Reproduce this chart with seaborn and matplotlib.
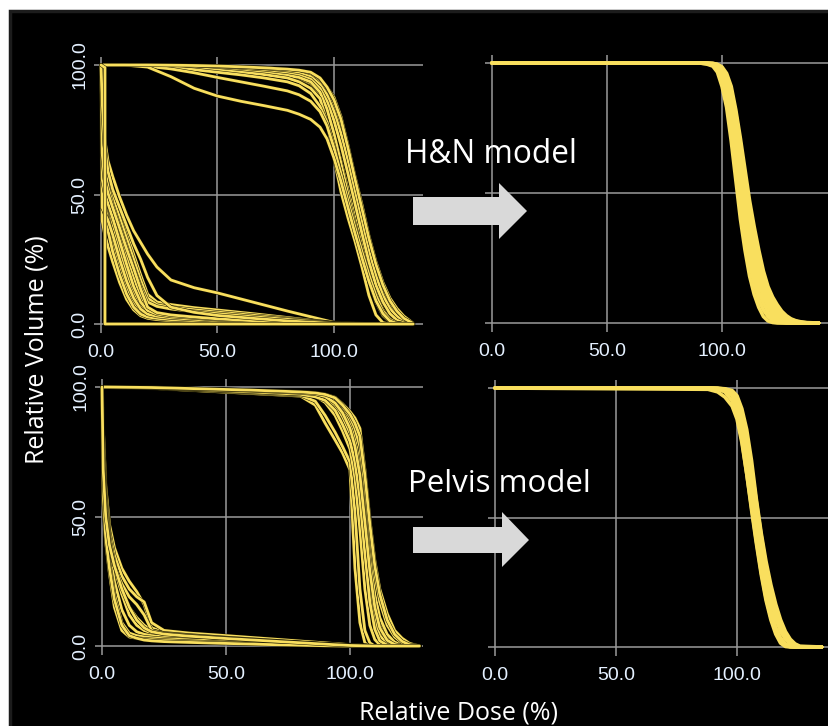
import numpy as np
import pandas as pd
import matplotlib
matplotlib.use("Agg")
import matplotlib.pyplot as plt
import seaborn as sns
from matplotlib import patheffects as pe
from matplotlib.patches import Rectangle, Polygon

# ---------------- data ----------------
# H&N, before model: target-like DVHs on a shared dose grid
HN_PRE_PTV_DOSE = [0, 10, 20, 30, 40, 50, 60, 70, 80, 85, 90, 94, 97, 100, 103, 106, 109, 112, 115, 118, 121, 124, 127, 130, 134]
HN_PRE_PTV_VOL = [
    [100, 100, 100, 100, 99.8, 99.6, 99.3, 99, 98.3, 97.8, 97, 94.5, 91.5, 87.5, 80, 69, 57, 46, 34, 24, 16, 10, 6, 3, 0.3],
    [100, 100, 100, 99.9, 99.7, 99.4, 99.1, 98.7, 98, 97.5, 96.3, 93.5, 90, 85, 77, 66, 54, 42.5, 31, 21, 13.5, 8, 4.5, 2, 0],
    [100, 100, 99.9, 99.7, 99.4, 99, 98.6, 98.1, 97.3, 96.8, 95.5, 92.5, 88.5, 82, 73.5, 63, 51, 39.5, 28, 18.5, 11, 6, 3, 1, 0],
    [100, 100, 99.8, 99.5, 99.1, 98.6, 98.1, 97.5, 96.7, 96, 94.5, 91, 86, 78.5, 69, 58, 46.5, 35, 24, 15, 8.5, 4, 1.5, 0.4, 0],
    [100, 100, 99.8, 99.4, 98.9, 98.3, 97.7, 97, 96, 95.2, 93.5, 89.5, 83, 73.5, 62, 50, 38.5, 28, 18, 10, 4.5, 1.5, 0.3, 0, 0],
    [100, 100, 99.7, 99.3, 98.7, 98, 97.2, 96.3, 95, 93.5, 91, 87, 78, 64, 51, 41, 32, 22, 11, 3.5, 0.5, 0, 0, 0, 0],
    [100, 100, 99.6, 99, 98.2, 97.2, 96.2, 95, 93.5, 92, 89, 84, 78, 69, 58, 47, 36.5, 26.5, 17, 9, 3.5, 1, 0.2, 0, 0],
    [100, 100, 99.5, 98.5, 97, 95.2, 93.5, 91.8, 90, 88.5, 86, 82, 76.5, 68, 58, 47.5, 37.5, 28, 19, 11, 5, 1.8, 0.4, 0, 0],
    [100, 100, 99.2, 95.5, 91, 88, 86, 84.3, 82.5, 81, 79, 76, 71.5, 64, 55, 45, 35, 25.5, 16.5, 9, 4, 1.2, 0.2, 0, 0],
    [100, 100, 100, 99.9, 99.8, 99.6, 99.3, 98.9, 98.4, 98, 97.2, 95, 91.5, 86.5, 79, 68, 56, 44.5, 33, 23, 15, 9, 5, 2.2, 0.2],
    [100, 100, 99.9, 99.6, 99.2, 98.7, 98.2, 97.6, 96.9, 96.4, 95.2, 92, 87, 80, 71, 60.5, 49, 37.5, 26.5, 17, 10, 5, 2, 0.6, 0],
    [100, 100, 99.7, 99.3, 98.7, 98, 97.3, 96.5, 95.5, 94.8, 92.8, 88.5, 81.5, 71.5, 60, 48.5, 37, 26.5, 16.5, 8.5, 3.2, 0.8, 0.1, 0, 0],
    [100, 100, 99.9, 99.8, 99.5, 99.2, 98.8, 98.3, 97.6, 97.1, 96, 93, 89, 83.5, 75, 64.5, 53, 41, 29.5, 19.5, 12, 7, 3.5, 1.4, 0],
    [100, 100, 99.8, 99.4, 98.8, 98.2, 97.5, 96.8, 95.8, 95, 93, 89, 82.5, 73, 63, 52, 41, 30.5, 20.5, 12, 5.5, 2, 0.5, 0, 0],
]
# H&N, before model: organ-at-risk DVHs
HN_PRE_OAR_DOSE = [0, 0.5, 1.5, 3, 5, 8, 11, 14, 17, 20, 24, 30, 40, 50, 65, 80, 100, 115, 134]
HN_PRE_OAR_VOL = [
    [100, 88, 72, 63, 57, 49, 42, 36, 31.5, 27, 22, 17, 14, 12, 8.5, 5, 0.6, 0, 0],
    [100, 82, 66, 58, 51, 43, 35, 27, 19, 11.5, 8.5, 7.5, 6.3, 5.4, 4, 2.5, 0.4, 0, 0],
    [100, 76, 61, 53, 46, 38, 30, 22, 14.5, 8.5, 6.8, 5.8, 4.8, 4, 2.8, 1.8, 0.3, 0, 0],
    [100, 70, 56, 47, 39, 29, 20, 12.5, 7.5, 4.5, 3.3, 2.7, 2.1, 1.7, 1.1, 0.6, 0.1, 0, 0],
    [100, 62, 47, 39, 32, 23, 14.5, 8.5, 5, 3.3, 2.6, 2.1, 1.6, 1.2, 0.7, 0.3, 0, 0, 0],
    [100, 52, 43, 36, 28, 19, 11.5, 6.5, 3.8, 2.7, 2.2, 1.7, 1.3, 0.9, 0.5, 0.2, 0, 0, 0],
    [100, 45, 43, 40, 34.5, 25, 16.5, 10, 5.8, 3.8, 3, 2.4, 1.8, 1.3, 0.8, 0.4, 0, 0, 0],
    [100, 56, 51, 46.5, 41, 32, 23, 14.5, 8.5, 5.2, 3.8, 3, 2.4, 1.7, 1, 0.5, 0.1, 0, 0],
    [100, 66, 56, 50.5, 45, 37, 29, 21.5, 13.5, 6.5, 4.4, 3.5, 2.7, 2, 1.3, 0.7, 0.1, 0, 0],
    [100, 86, 69, 59, 52, 45, 38, 31, 25, 18, 11, 6.5, 4.5, 3.3, 2.2, 1.2, 0.2, 0, 0],
    [100, 40, 35, 30, 24, 16, 9.5, 5.5, 3.2, 2.2, 1.7, 1.3, 0.9, 0.6, 0.3, 0.1, 0, 0, 0],
    [100, 78, 64, 56, 49, 41, 33, 25, 17, 10, 7.5, 6.5, 5.5, 4.6, 3.4, 2.1, 0.3, 0, 0],
    [100, 58, 49, 43, 37, 28, 19, 11.5, 6.5, 4, 3.2, 2.6, 2, 1.5, 0.9, 0.4, 0.1, 0, 0],
    [100, 72, 59, 51, 44, 35, 26, 18, 11, 6, 4.2, 3.3, 2.6, 2, 1.3, 0.7, 0.1, 0, 0],
]
HN_PRE_SPIKE_DOSE = [0, 1.7, 1.7, 134]
HN_PRE_SPIKE_VOL = [100, 99, 0, 0]

# H&N, after model
HN_POST_DOSE = [0, 90, 93, 96, 98, 100, 102, 104, 106, 108, 110, 112, 114, 116, 118, 120, 122, 124, 126, 128, 130, 132, 134, 137, 142]
HN_POST_VOL = [
    [100, 100, 99.7, 98.8, 96.5, 91, 83, 70, 55, 40, 28, 18, 11, 6, 2.5, 0.8, 0.2, 0, 0, 0, 0, 0, 0, 0, 0],
    [100, 100, 99.8, 99.2, 97.5, 93, 86, 75, 61, 47, 34, 23, 15, 9, 5, 2.5, 1, 0.3, 0.1, 0, 0, 0, 0, 0, 0],
    [100, 100, 99.8, 99.4, 98.3, 95, 89, 79, 66, 52, 39, 28, 19, 12, 7.5, 4.2, 2.2, 1, 0.4, 0.1, 0, 0, 0, 0, 0],
    [100, 100, 99.9, 99.5, 98.6, 96, 91, 82, 70, 57, 44, 32, 23, 15.5, 10, 6.2, 3.6, 2, 1, 0.4, 0.1, 0, 0, 0, 0],
    [100, 100, 99.9, 99.6, 99, 96.8, 92.5, 85, 74, 61, 48, 36, 26.5, 18.5, 12.5, 8, 5, 3, 1.7, 0.9, 0.4, 0.1, 0, 0, 0],
    [100, 100, 99.9, 99.7, 99.2, 97.5, 94, 87.5, 77.5, 65, 52, 40, 30, 21.5, 15, 10, 6.6, 4.2, 2.6, 1.5, 0.8, 0.3, 0.1, 0, 0],
    [100, 100, 100, 99.8, 99.4, 98, 95, 89.5, 80.5, 69, 56, 44, 33.5, 25, 18, 12.5, 8.5, 5.6, 3.6, 2.2, 1.3, 0.7, 0.3, 0.05, 0],
    [100, 100, 100, 99.9, 99.5, 98.5, 96, 91, 82, 71, 59, 47, 37, 28, 20, 14, 10, 7, 4.5, 2.8, 1.6, 0.9, 0.5, 0.15, 0],
]

# Pelvis, before model
PEL_PRE_PTV_DOSE = [0, 20, 40, 60, 80, 86, 90, 94, 97, 100, 102, 104, 106, 108, 110, 112, 115, 118, 121, 124, 128]
PEL_PRE_PTV_VOL = [
    [100, 99.8, 99.3, 98.8, 98.2, 97.8, 97.2, 96, 93.5, 90.5, 88, 84, 68, 49, 33, 22, 12.5, 6, 3, 1, 0],
    [100, 99.5, 98.5, 97.5, 96.5, 93, 86, 79.5, 74.5, 68, 30, 9, 1.2, 0, 0, 0, 0, 0, 0, 0, 0],
    [100, 99.6, 98.8, 97.8, 96.8, 94.5, 89, 82.5, 77, 71, 52, 22, 6, 1.2, 0, 0, 0, 0, 0, 0, 0],
    [100, 99.7, 99, 98.2, 97.3, 96.5, 94, 89, 83, 76, 65, 45, 22, 8, 2.5, 0.5, 0, 0, 0, 0, 0],
    [100, 99.7, 99.1, 98.5, 97.7, 97.2, 96, 93, 88.5, 82, 74, 60, 40, 22, 10, 4, 1, 0.2, 0, 0, 0],
    [100, 99.8, 99.2, 98.6, 97.9, 97.5, 96.7, 94.5, 91, 86, 80, 70, 53, 35, 20, 11, 4.5, 1.5, 0.4, 0, 0],
    [100, 99.8, 99.3, 98.7, 98, 97.6, 97, 95.3, 92.5, 88.5, 84, 77, 62, 44, 28, 17, 8, 3.5, 1.2, 0.3, 0],
    [100, 99.6, 98.9, 98.1, 97.2, 96.2, 94.8, 91, 85.5, 79, 71, 57, 36, 17, 6.5, 2, 0.3, 0, 0, 0, 0],
    [100, 99.7, 99.2, 98.6, 97.8, 97.3, 96.3, 93.8, 90, 84, 77, 66, 48, 29, 15, 7, 2.2, 0.6, 0.1, 0, 0],
    [100, 99.8, 99.3, 98.8, 98.1, 97.7, 97.1, 95.8, 93, 89.5, 86, 81, 66, 47, 31, 20, 10, 4.5, 1.8, 0.5, 0],
    [100, 99.7, 99.1, 98.4, 97.6, 97, 95.5, 92, 87, 80.5, 72.5, 62, 44, 26, 13, 5.5, 1.5, 0.3, 0, 0, 0],
    [100, 99.8, 99.2, 98.7, 98, 97.4, 96.4, 94, 90.5, 85, 78.5, 68.5, 51, 32, 18, 9, 3.5, 1, 0.2, 0, 0],
]
PEL_PRE_OAR_DOSE = [0, 0.5, 1.5, 3, 5, 8, 11, 14, 17, 20, 25, 35, 50, 70, 90, 100, 110, 128]
PEL_PRE_OAR_VOL = [
    [100, 85, 62, 47, 38, 30, 25, 21, 16, 7, 5.4, 4.5, 3.5, 2.3, 1, 0.4, 0, 0],
    [100, 80, 58, 44, 35, 27, 22, 19, 17, 9, 6, 5, 4, 2.6, 1.2, 0.5, 0, 0],
    [100, 75, 55, 42, 32, 22, 15, 11, 8, 6, 5, 4.2, 3.2, 2, 0.8, 0.3, 0, 0],
    [100, 70, 52, 40, 30, 20, 12, 8, 6, 5, 4.3, 3.6, 2.8, 1.7, 0.7, 0.2, 0, 0],
    [100, 65, 48, 36, 25, 14, 8, 5.5, 4.5, 4, 3.5, 3, 2.3, 1.3, 0.5, 0.1, 0, 0],
    [100, 60, 44, 32, 20, 9, 5, 4, 3.5, 3.2, 2.8, 2.4, 1.8, 1, 0.3, 0, 0, 0],
    [100, 55, 40, 28, 15, 6, 3.5, 3, 2.7, 2.5, 2.2, 1.8, 1.3, 0.7, 0.2, 0, 0, 0],
    [100, 62, 47, 38, 31, 24, 19, 16, 12, 6, 4.8, 4, 3, 1.8, 0.7, 0.2, 0, 0],
    [100, 58, 42, 30, 18, 8, 4, 3, 2.3, 2, 1.7, 1.4, 1, 0.5, 0.1, 0, 0, 0],
    [100, 68, 50, 39, 31, 22, 15, 10, 7, 5.5, 4.6, 3.8, 2.9, 1.8, 0.7, 0.2, 0, 0],
]

# Pelvis, after model
PEL_POST_DOSE = [0, 88, 92, 95, 98, 100, 102, 104, 106, 108, 110, 112, 114, 116, 118, 120, 122, 124, 126, 135]
PEL_POST_VOL = [
    [100, 100, 99.6, 98.5, 95, 90, 80, 67, 53, 40, 28, 18, 10.5, 5, 1.5, 0.2, 0, 0, 0, 0],
    [100, 100, 99.8, 99.2, 97, 93, 85, 73, 60, 46, 33, 22.5, 14, 7.5, 3.5, 1.2, 0.3, 0, 0, 0],
    [100, 100, 99.8, 99.4, 98, 95, 88, 77.5, 65, 51, 38, 27, 18, 11, 6, 3, 1.2, 0.3, 0, 0],
    [100, 100, 99.9, 99.6, 98.6, 96, 90, 81, 69, 56, 43, 31, 21.5, 14, 8.5, 4.5, 2, 0.7, 0.1, 0],
    [100, 100, 99.9, 99.7, 99, 97, 92, 84, 72, 57, 44, 33, 24, 16.5, 10.5, 6, 3, 1.2, 0.3, 0],
    [100, 99.5, 98.5, 96.5, 93, 88, 79, 67, 54, 41, 29, 19, 11.5, 6, 2.5, 0.7, 0.1, 0, 0, 0],
]

TICKS = [0, 50, 100]
TICK_LABELS = ["0.0", "50.0", "100.0"]
X_LABEL = "Relative Dose (%)"
Y_LABEL = "Relative Volume (%)"
MODEL_LABELS = ["H&N model", "Pelvis model"]

# ---------------- helpers ----------------
def frame(dose, curves, tag):
    rows = []
    for i, vols in enumerate(curves):
        assert len(vols) == len(dose), (tag, i, len(vols), len(dose))
        for k, (d, v) in enumerate(zip(dose, vols)):
            rows.append((f"{tag}{i}", k, d, v))
    return pd.DataFrame(rows, columns=["curve", "order", "dose", "volume"])


W, H = 829, 726
YELLOW = "#F9DF5E"
GRID = "#9a9a9a"
TICKCOL = "#e4f0ff"

sns.set_theme(style="darkgrid", rc={
    "axes.facecolor": "black",
    "figure.facecolor": "white",
    "grid.color": GRID,
    "grid.linewidth": 1.1,
})
plt.rcParams["font.family"] = ["Liberation Sans", "DejaVu Sans"]

fig = plt.figure(figsize=(W / 100, H / 100), dpi=100, facecolor="white")
fig.patches.append(Rectangle((10 / W, -0.02), 1.0, (H - 11) / H + 0.02,
                             transform=fig.transFigure, facecolor="black",
                             edgecolor="#1c1c1c", lw=2.5, zorder=-5))


def axes_rect(x0, x100, y0, y100, xlim, ylim):
    sx = (x100 - x0) / 100.0
    sy = (y0 - y100) / 100.0
    left = x0 + xlim[0] * sx
    right = x0 + xlim[1] * sx
    top = y0 - ylim[1] * sy
    bottom = y0 - ylim[0] * sy
    return [left / W, 1 - bottom / H, (right - left) / W, (bottom - top) / H]


outline = [pe.Stroke(linewidth=2.7, foreground="#141200"), pe.Normal()]

panels = [
    dict(px=(101, 334, 324, 65), xlim=(-3, 138), ylab=True, outline=True,
         data=[frame(HN_PRE_PTV_DOSE, HN_PRE_PTV_VOL, "p"),
               frame(HN_PRE_OAR_DOSE, HN_PRE_OAR_VOL, "o"),
               frame(HN_PRE_SPIKE_DOSE, [HN_PRE_SPIKE_VOL], "s")]),
    dict(px=(492, 722, 323, 63), xlim=(-3, 146.5), ylab=False, outline=False,
         data=[frame(HN_POST_DOSE, HN_POST_VOL, "c")]),
    dict(px=(102, 350, 646, 387), xlim=(-3, 129.4), ylab=True, outline=True,
         data=[frame(PEL_PRE_PTV_DOSE, PEL_PRE_PTV_VOL, "q"),
               frame(PEL_PRE_OAR_DOSE, PEL_PRE_OAR_VOL, "r")]),
    dict(px=(495, 737, 647, 388), xlim=(-3, 138), ylab=False, outline=False,
         data=[frame(PEL_POST_DOSE, PEL_POST_VOL, "m")]),
]

YLIM = (-3.3, 103)
for p in panels:
    ax = fig.add_axes(axes_rect(*p["px"], p["xlim"], YLIM))
    ax.set_facecolor("black")
    for df in p["data"]:
        kw = dict(lw=2.0, path_effects=outline) if p["outline"] else dict(lw=2.6)
        sns.lineplot(data=df, x="dose", y="volume", units="curve", estimator=None,
                     sort=False, color=YELLOW, legend=False, ax=ax, **kw)
    ax.set_xlim(*p["xlim"])
    ax.set_ylim(*YLIM)
    ax.set_xticks(TICKS)
    ax.set_xticklabels(TICK_LABELS)
    ax.set_yticks(TICKS)
    if p["ylab"]:
        ax.set_yticklabels(TICK_LABELS, rotation=90, va="center")
    else:
        ax.set_yticklabels([])
    ax.tick_params(axis="both", length=0, labelsize=14, labelcolor=TICKCOL)
    ax.tick_params(axis="x", pad=8)
    ax.tick_params(axis="y", pad=4)
    ax.set_xlabel("")
    ax.set_ylabel("")
    ax.grid(True, color=GRID, lw=1.1)
    ax.set_axisbelow(True)
    for s in ax.spines.values():
        s.set_visible(False)


def px(x, y):
    return (x / W, 1 - y / H)


arrows = [
    [(413, 197), (499, 197), (499, 183), (527, 211), (499, 239), (499, 225), (413, 225)],
    [(413, 527), (502, 527), (502, 512), (529, 540), (502, 567), (502, 553), (413, 553)],
]
for pts in arrows:
    fig.patches.append(Polygon([px(*q) for q in pts], closed=True, transform=fig.transFigure,
                               facecolor="#d9d9d9", edgecolor="none", zorder=5))

fig.text(*px(37, 350), Y_LABEL, rotation=90, ha="center", va="center",
         color="white", fontsize=18, family=["Open Sans", "DejaVu Sans"])
fig.text(*px(459, 713), X_LABEL, ha="center", va="center",
         color="white", fontsize=18, family=["Open Sans", "DejaVu Sans"])
fig.text(*px(405, 163), MODEL_LABELS[0], ha="left", va="baseline",
         color="white", fontsize=22.8, family=["Open Sans", "DejaVu Sans"], zorder=6)
fig.text(*px(408, 492), MODEL_LABELS[1], ha="left", va="baseline",
         color="white", fontsize=22.5, family=["Open Sans", "DejaVu Sans"], zorder=6)

fig.savefig("out.png", dpi=100, facecolor="white")
